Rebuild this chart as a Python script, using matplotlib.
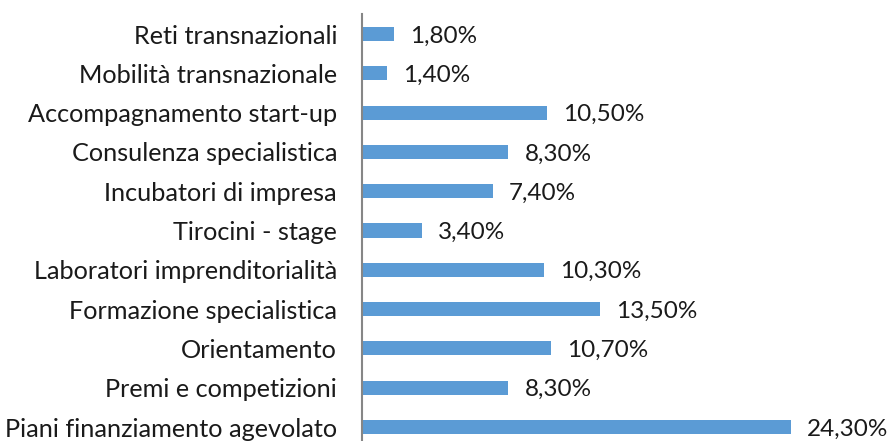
import matplotlib.pyplot as plt
import numpy as np

categorie = ['Piani finanziamento agevolato', 'Premi e competizioni', 'Orientamento',
             'Formazione specialistica', 'Laboratori imprenditorialità', 'Tirocini - stage',
             'Incubatori di impresa', 'Consulenza specialistica', 'Accompagnamento start-up',
             'Mobilità transnazionale', 'Reti transnazionali']
valori = [24.3, 8.3, 10.7, 13.5, 10.3, 3.4, 7.4, 8.3, 10.5, 1.4, 1.8]
etichette = ['24,30%', '8,30%', '10,70%', '13,50%', '10,30%', '3,40%',
             '7,40%', '8,30%', '10,50%', '1,40%', '1,80%']

plt.rcParams['font.family'] = ['Lato', 'DejaVu Sans']

fig = plt.figure(figsize=(8.89, 4.41), dpi=100)
ax = fig.add_axes([362 / 889, 0, 527 / 889, 427 / 441])

y = np.arange(len(categorie))
ax.barh(y, valori, height=0.36, color='#5B9BD5')
for yi, v, lab in zip(y, valori, etichette):
    ax.annotate(lab, (v, yi), xytext=(16, -2), textcoords='offset pixels',
                va='center', ha='left', fontsize=17.5, color='#1a1a1a')

ax.set_ylim(-0.356, 10.51)
ax.set_xlim(0, 29.86)
ax.set_yticks(y)
ax.set_yticklabels(categorie, fontsize=18.2, color='#1a1a1a')
ax.tick_params(axis='y', length=0, pad=18)
ax.set_xticks([])
for s in ['top', 'right', 'bottom']:
    ax.spines[s].set_visible(False)
ax.spines['left'].set_color('#868686')
ax.spines['left'].set_linewidth(1.5)

fig.savefig('out.png', dpi=100)
